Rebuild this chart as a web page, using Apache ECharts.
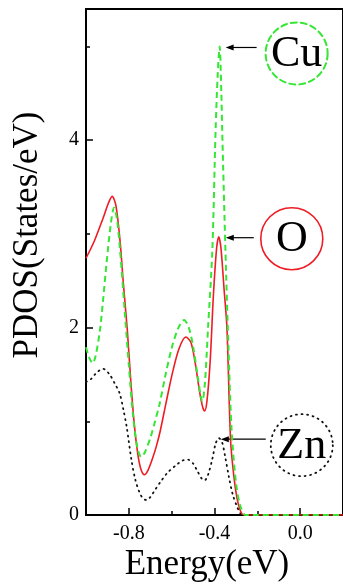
<!DOCTYPE html>
<html><head><meta charset="utf-8">
<script src="https://cdn.jsdelivr.net/npm/echarts@6/dist/echarts.min.js"></script>
<style>html,body{margin:0;padding:0;background:#fff}#c{width:343px;height:587px}</style>
</head><body><div id="c"></div>
<script>
// Energy (eV) / PDOS (States/eV) pairs
const oX  = [-1.0,-0.96,-0.92,-0.895,-0.878,-0.86,-0.84,-0.827,-0.807,-0.79,-0.775,-0.76,-0.745,-0.727,-0.71,-0.69,-0.672,-0.655,-0.626,-0.596,-0.565,-0.534,-0.51,-0.49,-0.47,-0.455,-0.446,-0.435,-0.42,-0.405,-0.39,-0.38,-0.37,-0.355,-0.342,-0.325,-0.31,-0.295,-0.28,-0.264,-0.2,0.0,0.2];
const oY  = [2.74,2.93,3.17,3.33,3.40,3.30,2.90,2.51,1.97,1.40,0.98,0.68,0.50,0.43,0.48,0.60,0.73,0.88,1.20,1.52,1.78,1.90,1.84,1.62,1.32,1.15,1.11,1.22,1.65,2.35,2.85,2.97,2.85,2.40,2.00,0.80,0.42,0.18,0.05,0.0,0.0,0.0,0.0];
const cuX = [-1.0,-0.985,-0.969,-0.955,-0.935,-0.92,-0.904,-0.884,-0.869,-0.855,-0.84,-0.82,-0.80,-0.78,-0.76,-0.742,-0.725,-0.70,-0.68,-0.657,-0.63,-0.60,-0.57,-0.542,-0.52,-0.50,-0.48,-0.465,-0.457,-0.445,-0.43,-0.41,-0.395,-0.385,-0.376,-0.368,-0.364,-0.349,-0.335,-0.32,-0.30,-0.28,-0.255,-0.2,0.0,0.2];
const cuY = [1.79,1.68,1.62,1.70,1.97,2.30,2.69,3.11,3.28,3.15,2.80,2.20,1.60,1.05,0.72,0.62,0.67,0.82,0.98,1.18,1.48,1.78,1.99,2.08,2.00,1.80,1.50,1.28,1.21,1.40,2.00,2.83,4.10,4.70,5.00,4.50,4.10,2.83,1.80,0.90,0.35,0.10,0.0,0.0,0.0,0.0];
const znX = [-1.0,-0.977,-0.95,-0.92,-0.89,-0.865,-0.843,-0.825,-0.81,-0.788,-0.77,-0.75,-0.735,-0.719,-0.70,-0.68,-0.65,-0.62,-0.58,-0.55,-0.523,-0.50,-0.48,-0.46,-0.446,-0.43,-0.41,-0.395,-0.38,-0.365,-0.35,-0.333,-0.315,-0.295,-0.28,-0.27];
const znY = [1.42,1.45,1.52,1.56,1.50,1.40,1.30,1.12,0.94,0.59,0.38,0.24,0.18,0.16,0.19,0.26,0.36,0.45,0.53,0.58,0.59,0.55,0.47,0.39,0.37,0.43,0.60,0.76,0.82,0.78,0.62,0.41,0.22,0.09,0.02,0.0];
const xMajor = [-0.8,-0.4,0.0];
const xMinor = [-0.6,-0.2,0.2];
const yLabels = [0,2,4];
const yMinor = [1,3,5];
const labelNames = ['Cu','O','Zn'];
const labelPeaks = [[-0.376,5.0],[-0.38,2.97],[-0.38,0.82]];

const pair = (xs,ys)=>xs.map((x,i)=>[x,ys[i]]);
const serif = 'Liberation Serif';
const chart = echarts.init(document.getElementById('c'));
const axisX = {type:'value',min:-1.0,max:0.2,position:'bottom',splitLine:{show:false}};
const axisY = {type:'value',min:0,max:5.4,interval:1,position:'left',splitLine:{show:false}};
chart.setOption({
  animation:false,
  grid:{left:86,top:9,width:260,height:506,show:true,borderColor:'#000',borderWidth:2,backgroundColor:'transparent'},
  xAxis:[
    Object.assign({},axisX,{interval:0.2,
      axisLine:{onZero:false,lineStyle:{color:'#000',width:2}},
      axisTick:{inside:true,length:7,lineStyle:{color:'#000',width:1.5},customValues:xMajor},
      axisLabel:{customValues:xMajor,margin:9,color:'#000',fontFamily:serif,fontSize:20,formatter:v=>v.toFixed(1)}}),
    Object.assign({},axisX,{interval:0.2,
      axisLine:{show:false,onZero:false},
      axisTick:{inside:true,length:4,lineStyle:{color:'#000',width:1.5},customValues:xMinor},
      axisLabel:{show:false}})
  ],
  yAxis:[
    Object.assign({},axisY,{
      axisLine:{onZero:false,lineStyle:{color:'#000',width:2}},
      axisTick:{inside:true,length:7,lineStyle:{color:'#000',width:1.5},customValues:yLabels},
      axisLabel:{customValues:yLabels,margin:7,color:'#000',fontFamily:serif,fontSize:20}}),
    Object.assign({},axisY,{
      axisLine:{show:false,onZero:false},
      axisTick:{inside:true,length:4,lineStyle:{color:'#000',width:1.5},customValues:yMinor},
      axisLabel:{show:false}})
  ],
  series:[
    {name:'Zn',type:'line',data:pair(znX,znY),smooth:0.3,symbol:'none',
      lineStyle:{color:'#111',width:1.8,type:[1,4.6],cap:'round'}},
    {name:'O',type:'line',data:pair(oX,oY),smooth:0.3,symbol:'none',
      lineStyle:{color:'#ee1c24',width:1.6}},
    {name:'Cu',type:'line',data:pair(cuX,cuY),smooth:0.3,symbol:'none',
      lineStyle:{color:'#35e635',width:2,type:[6,4]}}
  ]
});

// annotations: arrow + circled label anchored to each peak
const styles = [
  {stroke:'#35e635',lineDash:[6,4],lineWidth:2, dx:6, len:31, cx:71, cy:6},
  {stroke:'#ee1c24',lineDash:null,lineWidth:1.6, dx:7, len:28, cx:66, cy:1},
  {stroke:'#111',lineDash:[1,4.6],lineWidth:1.8, dx:2, len:45, cx:81, cy:6}
];
const g = [];
labelPeaks.forEach((p,i)=>{
  const s = styles[i];
  const px = chart.convertToPixel({xAxisIndex:0,yAxisIndex:0},p);
  const tx = px[0]+s.dx, ty = px[1]+1;
  g.push({type:'line',shape:{x1:tx+4,y1:ty,x2:tx+s.len,y2:ty},style:{stroke:'#000',lineWidth:1.2}});
  g.push({type:'polygon',shape:{points:[[tx,ty],[tx+8,ty-3],[tx+8,ty+3]]},style:{fill:'#000'}});
  const cx = tx+s.cx, cy = ty+s.cy;
  g.push({type:'circle',shape:{cx:cx,cy:cy,r:31},style:{fill:'none',stroke:s.stroke,lineWidth:s.lineWidth,lineDash:s.lineDash,lineCap:'round'}});
  g.push({type:'text',x:cx,y:cy+1,style:{text:labelNames[i],font:'44px "Liberation Serif"',fill:'#000',align:'center',verticalAlign:'middle'}});
});
g.push({type:'text',x:28,y:235,rotation:Math.PI/2,style:{text:'PDOS(States/eV)',font:'35px "Liberation Serif"',fill:'#000',align:'center',verticalAlign:'middle'}});
g.push({type:'text',x:207,y:565,style:{text:'Energy(eV)',font:'35px "Liberation Serif"',fill:'#000',align:'center',verticalAlign:'middle'}});
chart.setOption({graphic:g});
</script></body></html>
